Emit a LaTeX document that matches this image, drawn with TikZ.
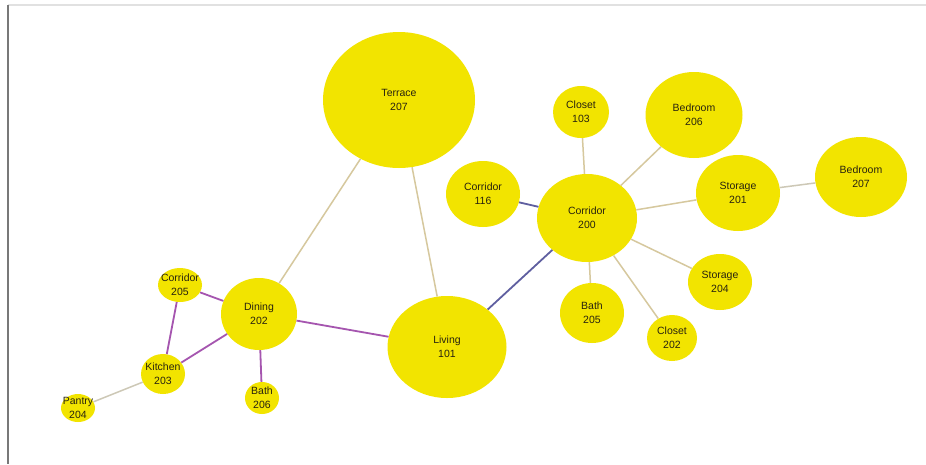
\documentclass[tikz,border=0pt]{standalone}
\usepackage{fontspec}
\setmainfont{Liberation Sans}
\usetikzlibrary{shapes.geometric}
\definecolor{roomfill}{RGB}{242,228,0}
\definecolor{roomtext}{RGB}{40,35,15}
\definecolor{tanedge}{RGB}{214,200,158}
\definecolor{grayedge}{RGB}{205,200,182}
\definecolor{purpedge}{RGB}{165,85,175}
\definecolor{slateedge}{RGB}{95,95,160}
\definecolor{framegray}{RGB}{120,120,120}
\definecolor{framelight}{RGB}{225,225,225}
\tikzset{
  room/.style={ellipse, fill=roomfill, draw=none, inner sep=0pt},
  roomlabel/.style={font=\fontsize{10.5}{14}\selectfont, text=roomtext, align=center, inner sep=0pt},
  tanlink/.style={draw=tanedge, line width=1.5pt},
  graylink/.style={draw=grayedge, line width=1.5pt},
  purplink/.style={draw=purpedge, line width=1.8pt},
  slatelink/.style={draw=slateedge, line width=1.8pt}
}
\begin{document}
\begin{tikzpicture}[x=1pt,y=-1pt]
\useasboundingbox (0,0) rectangle (926,464);
\fill[white] (0,0) rectangle (926,464);
% frame
\coordinate (ftl) at (8,5);
\coordinate (ftr) at (926,5);
\coordinate (fbl) at (8,464);
\draw[framelight, line width=2pt] (ftl) -- (ftr);
\draw[framegray, line width=1.3pt] (ftl) -- (fbl);
% rooms
\node[room, minimum width=152pt, minimum height=136pt] (terrace) at (399,100) {};
\node[room, minimum width=119pt, minimum height=102pt] (living) at (447,347) {};
\node[room, minimum width=76pt, minimum height=72pt] (dining) at (259,314) {};
\node[room, minimum width=44pt, minimum height=34pt] (cor205) at (180,285) {};
\node[room, minimum width=44pt, minimum height=40pt] (kitchen) at (163,374) {};
\node[room, minimum width=34pt, minimum height=32pt] (bath206) at (262,398) {};
\node[room, minimum width=34pt, minimum height=28pt] (pantry) at (78,408) {};
\node[room, minimum width=74pt, minimum height=66pt] (cor116) at (483,194) {};
\node[room, minimum width=100pt, minimum height=88pt] (cor200) at (587,218) {};
\node[room, minimum width=56pt, minimum height=52pt] (closet103) at (581,112) {};
\node[room, minimum width=97pt, minimum height=86pt] (bed206) at (694,115) {};
\node[room, minimum width=84pt, minimum height=76pt] (stor201) at (738,193) {};
\node[room, minimum width=92pt, minimum height=80pt] (bed207) at (861,177) {};
\node[room, minimum width=64pt, minimum height=56pt] (stor204) at (720,282) {};
\node[room, minimum width=64pt, minimum height=60pt] (bath205) at (592,313) {};
\node[room, minimum width=50pt, minimum height=46pt] (closet202) at (672,338) {};
% labels
\node[roomlabel] (terrace-t) at (terrace.center) {Terrace\\207};
\node[roomlabel] (living-t) at (living.center) {Living\\101};
\node[roomlabel] (dining-t) at (dining.center) {Dining\\202};
\node[roomlabel] (cor205-t) at (cor205.center) {Corridor\\205};
\node[roomlabel] (kitchen-t) at (kitchen.center) {Kitchen\\203};
\node[roomlabel] (bath206-t) at (bath206.center) {Bath\\206};
\node[roomlabel] (pantry-t) at (pantry.center) {Pantry\\204};
\node[roomlabel] (cor116-t) at (cor116.center) {Corridor\\116};
\node[roomlabel] (cor200-t) at (cor200.center) {Corridor\\200};
\node[roomlabel] (closet103-t) at (closet103.center) {Closet\\103};
\node[roomlabel] (bed206-t) at (bed206.center) {Bedroom\\206};
\node[roomlabel] (stor201-t) at (stor201.center) {Storage\\201};
\node[roomlabel] (bed207-t) at (bed207.center) {Bedroom\\207};
\node[roomlabel] (stor204-t) at (stor204.center) {Storage\\204};
\node[roomlabel] (bath205-t) at (bath205.center) {Bath\\205};
\node[roomlabel] (closet202-t) at (closet202.center) {Closet\\202};
% links
\draw[tanlink] (terrace) -- (dining);
\draw[tanlink] (terrace) -- (living);
\draw[purplink] (dining) -- (living);
\draw[purplink] (dining) -- (cor205);
\draw[purplink] (dining) -- (kitchen);
\draw[purplink] (dining) -- (bath206);
\draw[purplink] (cor205) -- (kitchen);
\draw[graylink] (kitchen) -- (pantry);
\draw[slatelink] (living) -- (cor200);
\draw[slatelink] (cor116) -- (cor200);
\draw[tanlink] (cor200) -- (closet103);
\draw[tanlink] (cor200) -- (bed206);
\draw[tanlink] (cor200) -- (stor201);
\draw[graylink] (stor201) -- (bed207);
\draw[tanlink] (cor200) -- (stor204);
\draw[tanlink] (cor200) -- (closet202);
\draw[tanlink] (cor200) -- (bath205);
\end{tikzpicture}
\end{document}
